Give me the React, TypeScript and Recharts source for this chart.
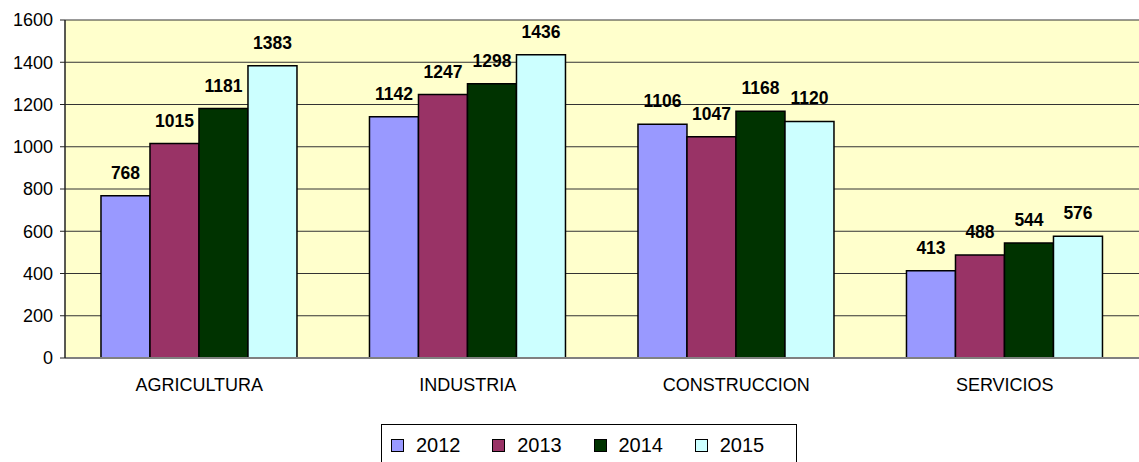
import React from 'react';
import { BarChart, Bar, XAxis, YAxis, CartesianGrid, LabelList } from 'recharts';

const sectores = ['AGRICULTURA', 'INDUSTRIA', 'CONSTRUCCION', 'SERVICIOS'];
const valores2012 = [768, 1142, 1106, 413];
const valores2013 = [1015, 1247, 1047, 488];
const valores2014 = [1181, 1298, 1168, 544];
const valores2015 = [1383, 1436, 1120, 576];
const yTicks = [0, 200, 400, 600, 800, 1000, 1200, 1400, 1600];

const series = [
  { key: '2012', fill: '#9999FF' },
  { key: '2013', fill: '#993366' },
  { key: '2014', fill: '#003300' },
  { key: '2015', fill: '#CCFFFF' },
];

const data = sectores.map((name, i) => ({
  name,
  '2012': valores2012[i],
  '2013': valores2013[i],
  '2014': valores2014[i],
  '2015': valores2015[i],
}));

const font = 'Arial, "Liberation Sans", sans-serif';

export default function App() {
  return (
    <div style={{ position: 'absolute', left: 0, top: 0, width: 1139, height: 462, background: '#fff', fontFamily: font }}>
      <BarChart
        width={1139}
        height={462}
        data={data}
        margin={{ top: 20, right: 0, bottom: 0, left: 0 }}
        barCategoryGap="13.4%"
        barGap={0}
      >
        <CartesianGrid
          vertical={false}
          stroke="#333"
          strokeWidth={1}
          fill="#FFFFCC"
          fillOpacity={1}
        />
        <XAxis
          dataKey="name"
          height={104}
          tickLine={false}
          axisLine={{ stroke: '#808080', strokeWidth: 2 }}
          tick={{ fill: '#000', fontSize: 18, fontFamily: font }}
          tickMargin={14}
        />
        <YAxis
          width={65}
          domain={[0, 1600]}
          ticks={yTicks}
          interval={0}
          axisLine={{ stroke: '#222', strokeWidth: 1.5 }}
          tickLine={{ stroke: '#222' }}
          tickSize={5}
          tickMargin={7}
          tick={{ fill: '#000', fontSize: 18, fontFamily: font }}
        />
        {series.map((s) => (
          <Bar
            key={s.key}
            dataKey={s.key}
            fill={s.fill}
            stroke="#000"
            strokeWidth={1.5}
            isAnimationActive={false}
          >
            <LabelList
              dataKey={s.key}
              position="top"
              offset={17}
              fill="#000"
              fontSize={17.5}
              fontWeight="bold"
              fontFamily={font}
            />
          </Bar>
        ))}
      </BarChart>
      <div
        style={{
          position: 'absolute',
          left: 381,
          top: 424,
          width: 416,
          height: 50,
          border: '1px solid #000',
          boxSizing: 'border-box',
          display: 'flex',
          alignItems: 'flex-start',
          paddingTop: 10,
          paddingLeft: 9,
        }}
      >
        {series.map((s) => (
          <div key={s.key} style={{ display: 'flex', alignItems: 'center', width: 108 }}>
            <span
              style={{
                display: 'inline-block',
                width: 13,
                height: 13,
                boxSizing: 'border-box',
                background: s.fill,
                border: '1px solid #000',
                marginRight: 12,
              }}
            />
            <span style={{ fontSize: 20, lineHeight: '20px', color: '#000' }}>{s.key}</span>
          </div>
        ))}
      </div>
    </div>
  );
}
